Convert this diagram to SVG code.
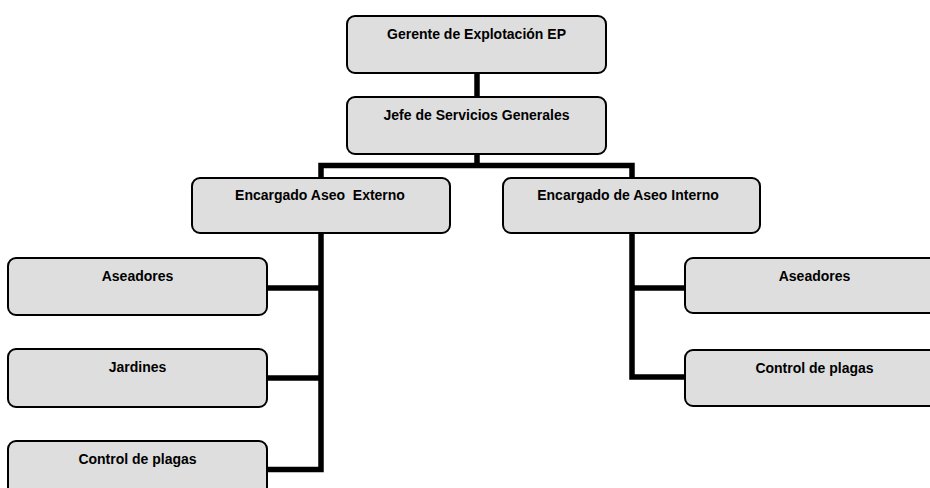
<svg xmlns="http://www.w3.org/2000/svg" width="930" height="488" viewBox="0 0 930 488">
<style>
.box{fill:#dedede;stroke:#000;stroke-width:2}
.lbl{font-family:"Liberation Sans",Arial,sans-serif;font-weight:bold;font-size:14px;fill:#000;text-anchor:middle}
.con{fill:none;stroke:#000;stroke-width:5.5;stroke-linejoin:miter;stroke-linecap:butt}
</style>
<rect width="930" height="488" fill="#fff"/>
<g id="connectors">
<path class="con" d="M477,73 V97"/>
<path class="con" d="M477,154 V165.5"/>
<path class="con" d="M321,178 V165.5 H632 V178"/>
<path class="con" d="M321,233 V469.5 H267"/>
<path class="con" d="M267,288 H321"/>
<path class="con" d="M267,378 H321"/>
<path class="con" d="M632,233 V377 H685"/>
<path class="con" d="M632,288 H685"/>
</g>
<g id="gerente"><rect class="box" x="347" y="16" width="259" height="57" rx="8"/><text class="lbl" x="476.5" y="39">Gerente de Explotación EP</text></g>
<g id="jefe"><rect class="box" x="347" y="97" width="259" height="57" rx="8"/><text class="lbl" x="476.5" y="120">Jefe de Servicios Generales</text></g>
<g id="externo"><rect class="box" x="192" y="178" width="258" height="55" rx="8"/><text class="lbl" x="320" y="200" xml:space="preserve">Encargado Aseo  Externo</text></g>
<g id="interno"><rect class="box" x="503" y="178" width="257" height="55" rx="8"/><text class="lbl" x="628" y="200">Encargado de Aseo Interno</text></g>
<g id="aseadores-ext"><rect class="box" x="8" y="258" width="259" height="57" rx="8"/><text class="lbl" x="137.5" y="281">Aseadores</text></g>
<g id="jardines"><rect class="box" x="8" y="349" width="259" height="58" rx="8"/><text class="lbl" x="137.5" y="372">Jardines</text></g>
<g id="control-ext"><rect class="box" x="8" y="441" width="259" height="58" rx="8"/><text class="lbl" x="137.5" y="464">Control de plagas</text></g>
<g id="aseadores-int"><rect class="box" x="685" y="258" width="259" height="55" rx="8"/><text class="lbl" x="814.5" y="281">Aseadores</text></g>
<g id="control-int"><rect class="box" x="685" y="350" width="259" height="56" rx="8"/><text class="lbl" x="814.5" y="373">Control de plagas</text></g>
</svg>
